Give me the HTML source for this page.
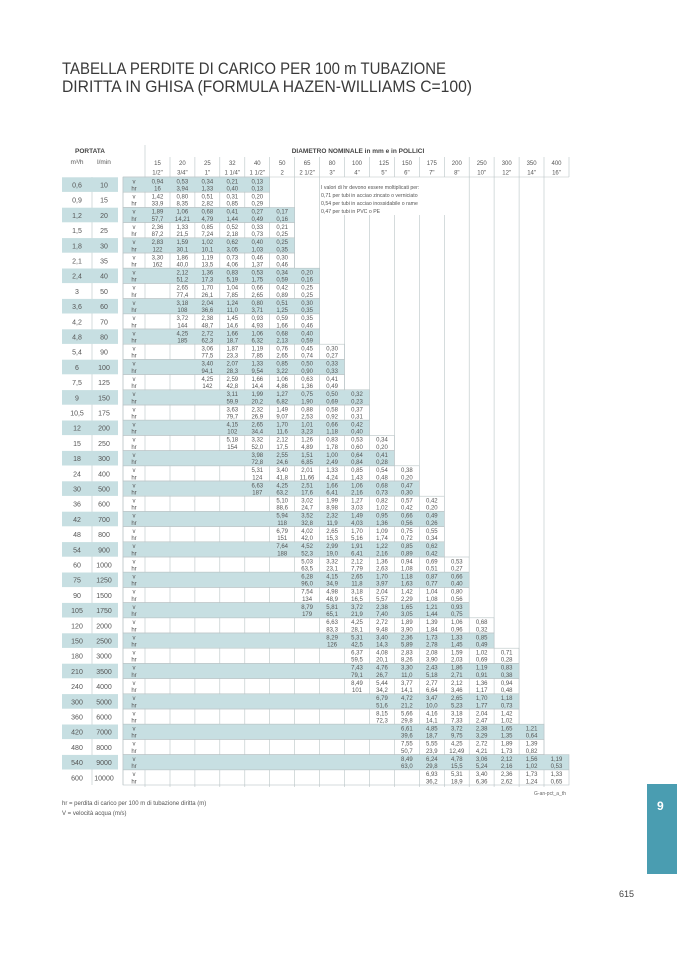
<!DOCTYPE html>
<html><head><meta charset="utf-8"><style>
html,body{margin:0;padding:0;background:#fff;}
svg{display:block;}
.d text{font-family:"Liberation Sans",sans-serif;font-size:6px;fill:#555;text-anchor:middle;}
.l{font-family:"Liberation Sans",sans-serif;font-size:7px;fill:#555;text-anchor:middle;}
.s{fill:#c7dfe2;}
.b{fill:none;stroke:#b9c4c6;stroke-width:0.6;}
</style></head><body>
<svg width="677" height="958" viewBox="0 0 677 958" xmlns="http://www.w3.org/2000/svg">
<text x="62" y="74" font-family="Liberation Sans, sans-serif" font-size="17" fill="#3a3a3a" textLength="384" lengthAdjust="spacingAndGlyphs">TABELLA PERDITE DI CARICO PER 100 m TUBAZIONE</text>
<text x="62" y="92" font-family="Liberation Sans, sans-serif" font-size="17" fill="#3a3a3a" textLength="410" lengthAdjust="spacingAndGlyphs">DIRITTA IN GHISA (FORMULA HAZEN-WILLIAMS C=100)</text>

<!-- header -->
<text x="90" y="153" font-family="Liberation Sans, sans-serif" font-size="6.5" font-weight="bold" fill="#444" text-anchor="middle">PORTATA</text>
<text x="77" y="164" class="l" style="font-size:6.5px">m³/h</text>
<text x="104" y="164" class="l" style="font-size:6.5px">l/min</text>
<text x="358" y="153" font-family="Liberation Sans, sans-serif" font-size="6.5" font-weight="bold" fill="#444" text-anchor="middle">DIAMETRO NOMINALE in mm e in POLLICI</text>
<g class="d">
<text x="157.5" y="165">15</text><text x="182.4" y="165">20</text><text x="207.4" y="165">25</text><text x="232.3" y="165">32</text><text x="257.3" y="165">40</text><text x="282.2" y="165">50</text><text x="307.1" y="165">65</text><text x="332.1" y="165">80</text><text x="357" y="165">100</text><text x="384" y="165">125</text><text x="406.9" y="165">150</text><text x="431.8" y="165">175</text><text x="456.8" y="165">200</text><text x="481.7" y="165">250</text><text x="506.7" y="165">300</text><text x="531.6" y="165">350</text><text x="556.5" y="165">400</text>
<text x="157.5" y="174.5">1/2"</text><text x="182.4" y="174.5">3/4"</text><text x="207.4" y="174.5">1"</text><text x="232.3" y="174.5">1 1/4"</text><text x="257.3" y="174.5">1 1/2"</text><text x="282.2" y="174.5">2</text><text x="307.1" y="174.5">2 1/2"</text><text x="332.1" y="174.5">3"</text><text x="357" y="174.5">4"</text><text x="384" y="174.5">5"</text><text x="406.9" y="174.5">6"</text><text x="431.8" y="174.5">7"</text><text x="456.8" y="174.5">8"</text><text x="481.7" y="174.5">10"</text><text x="506.7" y="174.5">12"</text><text x="531.6" y="174.5">14"</text><text x="556.5" y="174.5">16"</text>
</g>
<g stroke="#b9c4c6" stroke-width="0.6">
<line x1="145" y1="145" x2="145" y2="787"/><line x1="123" y1="177" x2="123" y2="785"/>
<line x1="170" y1="157" x2="170" y2="787"/><line x1="194.9" y1="157" x2="194.9" y2="787"/><line x1="219.8" y1="157" x2="219.8" y2="787"/><line x1="244.8" y1="157" x2="244.8" y2="787"/><line x1="269.7" y1="157" x2="269.7" y2="787"/><line x1="294.6" y1="157" x2="294.6" y2="787"/><line x1="319.6" y1="157" x2="319.6" y2="787"/>
<line x1="344.5" y1="157" x2="344.5" y2="177"/><line x1="369.5" y1="157" x2="369.5" y2="177"/><line x1="394.4" y1="157" x2="394.4" y2="177"/><line x1="419.3" y1="157" x2="419.3" y2="177"/><line x1="444.3" y1="157" x2="444.3" y2="177"/>
<line x1="344.5" y1="215" x2="344.5" y2="787"/><line x1="369.5" y1="215" x2="369.5" y2="787"/><line x1="394.4" y1="215" x2="394.4" y2="787"/><line x1="419.3" y1="215" x2="419.3" y2="787"/><line x1="444.3" y1="215" x2="444.3" y2="787"/>
<line x1="469.2" y1="157" x2="469.2" y2="787"/><line x1="494.1" y1="157" x2="494.1" y2="787"/><line x1="519.1" y1="157" x2="519.1" y2="787"/><line x1="544" y1="157" x2="544" y2="787"/><line x1="569" y1="157" x2="569" y2="177"/>
<line x1="123" y1="177" x2="569" y2="177"/><line x1="92" y1="177" x2="92" y2="785"/>
</g>
<g font-family="Liberation Sans, sans-serif" font-size="5.2" fill="#555">
<text x="321" y="189">I valori di hr devono essere moltiplicati per:</text>
<text x="321" y="197">0,71  per tubi in acciao  zincato o verniciato</text>
<text x="321" y="205">0,54  per tubi in acciao inossidabile o rame</text>
<text x="321" y="213">0,47  per tubi in PVC o PE</text>
</g>

<!-- shading -->
<g class="s">
<rect x="62" y="177.3" width="56" height="14.6"/><rect x="123" y="177.3" width="146.7" height="14.6"/>
<rect x="62" y="207.7" width="56" height="14.6"/><rect x="123" y="207.7" width="171.6" height="14.6"/>
<rect x="62" y="238.1" width="56" height="14.6"/><rect x="123" y="238.1" width="171.6" height="14.6"/>
<rect x="62" y="268.5" width="56" height="14.6"/><rect x="123" y="268.5" width="196.6" height="14.6"/>
<rect x="62" y="298.9" width="56" height="14.6"/><rect x="123" y="298.9" width="196.6" height="14.6"/>
<rect x="62" y="329.3" width="56" height="14.6"/><rect x="123" y="329.3" width="196.6" height="14.6"/>
<rect x="62" y="359.7" width="56" height="14.6"/><rect x="123" y="359.7" width="221.5" height="14.6"/>
<rect x="62" y="390.1" width="56" height="14.6"/><rect x="123" y="390.1" width="246.5" height="14.6"/>
<rect x="62" y="420.5" width="56" height="14.6"/><rect x="123" y="420.5" width="246.5" height="14.6"/>
<rect x="62" y="450.9" width="56" height="14.6"/><rect x="123" y="450.9" width="271.4" height="14.6"/>
<rect x="62" y="481.3" width="56" height="14.6"/><rect x="123" y="481.3" width="296.3" height="14.6"/>
<rect x="62" y="511.7" width="56" height="14.6"/><rect x="123" y="511.7" width="321.3" height="14.6"/>
<rect x="62" y="542.1" width="56" height="14.6"/><rect x="123" y="542.1" width="321.3" height="14.6"/>
<rect x="62" y="572.5" width="56" height="14.6"/><rect x="123" y="572.5" width="346.2" height="14.6"/>
<rect x="62" y="602.9" width="56" height="14.6"/><rect x="123" y="602.9" width="346.2" height="14.6"/>
<rect x="62" y="633.3" width="56" height="14.6"/><rect x="123" y="633.3" width="371.1" height="14.6"/>
<rect x="62" y="663.7" width="56" height="14.6"/><rect x="123" y="663.7" width="396.1" height="14.6"/>
<rect x="62" y="694.1" width="56" height="14.6"/><rect x="123" y="694.1" width="396.1" height="14.6"/>
<rect x="62" y="724.5" width="56" height="14.6"/><rect x="123" y="724.5" width="421" height="14.6"/>
<rect x="62" y="754.9" width="56" height="14.6"/><rect x="123" y="754.9" width="446" height="14.6"/>
</g>
<!-- row borders -->
<g class="b">
<rect x="123" y="177" width="146.7" height="15.2"/><rect x="123" y="192.2" width="146.7" height="15.2"/>
<rect x="123" y="207.4" width="171.6" height="15.2"/><rect x="123" y="222.6" width="171.6" height="15.2"/><rect x="123" y="237.8" width="171.6" height="15.2"/><rect x="123" y="253" width="171.6" height="15.2"/>
<rect x="123" y="268.2" width="196.6" height="15.2"/><rect x="123" y="283.4" width="196.6" height="15.2"/><rect x="123" y="298.6" width="196.6" height="15.2"/><rect x="123" y="313.8" width="196.6" height="15.2"/><rect x="123" y="329" width="196.6" height="15.2"/>
<rect x="123" y="344.2" width="221.5" height="15.2"/><rect x="123" y="359.4" width="221.5" height="15.2"/><rect x="123" y="374.6" width="221.5" height="15.2"/>
<rect x="123" y="389.8" width="246.5" height="15.2"/><rect x="123" y="405" width="246.5" height="15.2"/><rect x="123" y="420.2" width="246.5" height="15.2"/>
<rect x="123" y="435.4" width="271.4" height="15.2"/><rect x="123" y="450.6" width="271.4" height="15.2"/>
<rect x="123" y="465.8" width="296.3" height="15.2"/><rect x="123" y="481" width="296.3" height="15.2"/>
<rect x="123" y="496.2" width="321.3" height="15.2"/><rect x="123" y="511.4" width="321.3" height="15.2"/><rect x="123" y="526.6" width="321.3" height="15.2"/><rect x="123" y="541.8" width="321.3" height="15.2"/>
<rect x="123" y="557" width="346.2" height="15.2"/><rect x="123" y="572.2" width="346.2" height="15.2"/><rect x="123" y="587.4" width="346.2" height="15.2"/><rect x="123" y="602.6" width="346.2" height="15.2"/>
<rect x="123" y="617.8" width="371.1" height="15.2"/><rect x="123" y="633" width="371.1" height="15.2"/>
<rect x="123" y="648.2" width="396.1" height="15.2"/><rect x="123" y="663.4" width="396.1" height="15.2"/><rect x="123" y="678.6" width="396.1" height="15.2"/><rect x="123" y="693.8" width="396.1" height="15.2"/><rect x="123" y="709" width="396.1" height="15.2"/>
<rect x="123" y="724.2" width="421" height="15.2"/><rect x="123" y="739.4" width="421" height="15.2"/>
<rect x="123" y="754.6" width="446" height="15.2"/><rect x="123" y="769.8" width="446" height="15.2"/>
</g>

<!-- left labels -->
<g class="l">
<text x="77" y="187.5">0,6</text><text x="104" y="187.5">10</text>
<text x="77" y="202.7">0,9</text><text x="104" y="202.7">15</text>
<text x="77" y="217.9">1,2</text><text x="104" y="217.9">20</text>
<text x="77" y="233.1">1,5</text><text x="104" y="233.1">25</text>
<text x="77" y="248.3">1,8</text><text x="104" y="248.3">30</text>
<text x="77" y="263.5">2,1</text><text x="104" y="263.5">35</text>
<text x="77" y="278.7">2,4</text><text x="104" y="278.7">40</text>
<text x="77" y="293.9">3</text><text x="104" y="293.9">50</text>
<text x="77" y="309.1">3,6</text><text x="104" y="309.1">60</text>
<text x="77" y="324.3">4,2</text><text x="104" y="324.3">70</text>
<text x="77" y="339.5">4,8</text><text x="104" y="339.5">80</text>
<text x="77" y="354.7">5,4</text><text x="104" y="354.7">90</text>
<text x="77" y="369.9">6</text><text x="104" y="369.9">100</text>
<text x="77" y="385.1">7,5</text><text x="104" y="385.1">125</text>
<text x="77" y="400.3">9</text><text x="104" y="400.3">150</text>
<text x="77" y="415.5">10,5</text><text x="104" y="415.5">175</text>
<text x="77" y="430.7">12</text><text x="104" y="430.7">200</text>
<text x="77" y="445.9">15</text><text x="104" y="445.9">250</text>
<text x="77" y="461.1">18</text><text x="104" y="461.1">300</text>
<text x="77" y="476.3">24</text><text x="104" y="476.3">400</text>
<text x="77" y="491.5">30</text><text x="104" y="491.5">500</text>
<text x="77" y="506.7">36</text><text x="104" y="506.7">600</text>
<text x="77" y="521.9">42</text><text x="104" y="521.9">700</text>
<text x="77" y="537.1">48</text><text x="104" y="537.1">800</text>
<text x="77" y="552.3">54</text><text x="104" y="552.3">900</text>
<text x="77" y="567.5">60</text><text x="104" y="567.5">1000</text>
<text x="77" y="582.7">75</text><text x="104" y="582.7">1250</text>
<text x="77" y="597.9">90</text><text x="104" y="597.9">1500</text>
<text x="77" y="613.1">105</text><text x="104" y="613.1">1750</text>
<text x="77" y="628.3">120</text><text x="104" y="628.3">2000</text>
<text x="77" y="643.5">150</text><text x="104" y="643.5">2500</text>
<text x="77" y="658.7">180</text><text x="104" y="658.7">3000</text>
<text x="77" y="673.9">210</text><text x="104" y="673.9">3500</text>
<text x="77" y="689.1">240</text><text x="104" y="689.1">4000</text>
<text x="77" y="704.3">300</text><text x="104" y="704.3">5000</text>
<text x="77" y="719.5">360</text><text x="104" y="719.5">6000</text>
<text x="77" y="734.7">420</text><text x="104" y="734.7">7000</text>
<text x="77" y="749.9">480</text><text x="104" y="749.9">8000</text>
<text x="77" y="765.1">540</text><text x="104" y="765.1">9000</text>
<text x="77" y="780.3">600</text><text x="104" y="780.3">10000</text>
</g>

<!-- data rows -->
<g class="d">
<g transform="translate(0,177)"><text x="134" y="6.3">v</text><text x="134" y="13.5">hr</text><text x="157.5" y="6.3">0,94</text><text x="182.4" y="6.3">0,53</text><text x="207.4" y="6.3">0,34</text><text x="232.3" y="6.3">0,21</text><text x="257.3" y="6.3">0,13</text><text x="157.5" y="13.5">16</text><text x="182.4" y="13.5">3,94</text><text x="207.4" y="13.5">1,33</text><text x="232.3" y="13.5">0,40</text><text x="257.3" y="13.5">0,13</text></g>
<g transform="translate(0,192.2)"><text x="134" y="6.3">v</text><text x="134" y="13.5">hr</text><text x="157.5" y="6.3">1,42</text><text x="182.4" y="6.3">0,80</text><text x="207.4" y="6.3">0,51</text><text x="232.3" y="6.3">0,31</text><text x="257.3" y="6.3">0,20</text><text x="157.5" y="13.5">33,9</text><text x="182.4" y="13.5">8,35</text><text x="207.4" y="13.5">2,82</text><text x="232.3" y="13.5">0,85</text><text x="257.3" y="13.5">0,29</text></g>
<g transform="translate(0,207.4)"><text x="134" y="6.3">v</text><text x="134" y="13.5">hr</text><text x="157.5" y="6.3">1,89</text><text x="182.4" y="6.3">1,06</text><text x="207.4" y="6.3">0,68</text><text x="232.3" y="6.3">0,41</text><text x="257.3" y="6.3">0,27</text><text x="282.2" y="6.3">0,17</text><text x="157.5" y="13.5">57,7</text><text x="182.4" y="13.5">14,21</text><text x="207.4" y="13.5">4,79</text><text x="232.3" y="13.5">1,44</text><text x="257.3" y="13.5">0,49</text><text x="282.2" y="13.5">0,16</text></g>
<g transform="translate(0,222.6)"><text x="134" y="6.3">v</text><text x="134" y="13.5">hr</text><text x="157.5" y="6.3">2,36</text><text x="182.4" y="6.3">1,33</text><text x="207.4" y="6.3">0,85</text><text x="232.3" y="6.3">0,52</text><text x="257.3" y="6.3">0,33</text><text x="282.2" y="6.3">0,21</text><text x="157.5" y="13.5">87,2</text><text x="182.4" y="13.5">21,5</text><text x="207.4" y="13.5">7,24</text><text x="232.3" y="13.5">2,18</text><text x="257.3" y="13.5">0,73</text><text x="282.2" y="13.5">0,25</text></g>
<g transform="translate(0,237.8)"><text x="134" y="6.3">v</text><text x="134" y="13.5">hr</text><text x="157.5" y="6.3">2,83</text><text x="182.4" y="6.3">1,59</text><text x="207.4" y="6.3">1,02</text><text x="232.3" y="6.3">0,62</text><text x="257.3" y="6.3">0,40</text><text x="282.2" y="6.3">0,25</text><text x="157.5" y="13.5">122</text><text x="182.4" y="13.5">30,1</text><text x="207.4" y="13.5">10,1</text><text x="232.3" y="13.5">3,05</text><text x="257.3" y="13.5">1,03</text><text x="282.2" y="13.5">0,35</text></g>
<g transform="translate(0,253)"><text x="134" y="6.3">v</text><text x="134" y="13.5">hr</text><text x="157.5" y="6.3">3,30</text><text x="182.4" y="6.3">1,86</text><text x="207.4" y="6.3">1,19</text><text x="232.3" y="6.3">0,73</text><text x="257.3" y="6.3">0,46</text><text x="282.2" y="6.3">0,30</text><text x="157.5" y="13.5">162</text><text x="182.4" y="13.5">40,0</text><text x="207.4" y="13.5">13,5</text><text x="232.3" y="13.5">4,06</text><text x="257.3" y="13.5">1,37</text><text x="282.2" y="13.5">0,46</text></g>
<g transform="translate(0,268.2)"><text x="134" y="6.3">v</text><text x="134" y="13.5">hr</text><text x="182.4" y="6.3">2,12</text><text x="207.4" y="6.3">1,36</text><text x="232.3" y="6.3">0,83</text><text x="257.3" y="6.3">0,53</text><text x="282.2" y="6.3">0,34</text><text x="307.1" y="6.3">0,20</text><text x="182.4" y="13.5">51,2</text><text x="207.4" y="13.5">17,3</text><text x="232.3" y="13.5">5,19</text><text x="257.3" y="13.5">1,75</text><text x="282.2" y="13.5">0,59</text><text x="307.1" y="13.5">0,16</text></g>
<g transform="translate(0,283.4)"><text x="134" y="6.3">v</text><text x="134" y="13.5">hr</text><text x="182.4" y="6.3">2,65</text><text x="207.4" y="6.3">1,70</text><text x="232.3" y="6.3">1,04</text><text x="257.3" y="6.3">0,66</text><text x="282.2" y="6.3">0,42</text><text x="307.1" y="6.3">0,25</text><text x="182.4" y="13.5">77,4</text><text x="207.4" y="13.5">26,1</text><text x="232.3" y="13.5">7,85</text><text x="257.3" y="13.5">2,65</text><text x="282.2" y="13.5">0,89</text><text x="307.1" y="13.5">0,25</text></g>
<g transform="translate(0,298.6)"><text x="134" y="6.3">v</text><text x="134" y="13.5">hr</text><text x="182.4" y="6.3">3,18</text><text x="207.4" y="6.3">2,04</text><text x="232.3" y="6.3">1,24</text><text x="257.3" y="6.3">0,80</text><text x="282.2" y="6.3">0,51</text><text x="307.1" y="6.3">0,30</text><text x="182.4" y="13.5">108</text><text x="207.4" y="13.5">36,6</text><text x="232.3" y="13.5">11,0</text><text x="257.3" y="13.5">3,71</text><text x="282.2" y="13.5">1,25</text><text x="307.1" y="13.5">0,35</text></g>
<g transform="translate(0,313.8)"><text x="134" y="6.3">v</text><text x="134" y="13.5">hr</text><text x="182.4" y="6.3">3,72</text><text x="207.4" y="6.3">2,38</text><text x="232.3" y="6.3">1,45</text><text x="257.3" y="6.3">0,93</text><text x="282.2" y="6.3">0,59</text><text x="307.1" y="6.3">0,35</text><text x="182.4" y="13.5">144</text><text x="207.4" y="13.5">48,7</text><text x="232.3" y="13.5">14,6</text><text x="257.3" y="13.5">4,93</text><text x="282.2" y="13.5">1,66</text><text x="307.1" y="13.5">0,46</text></g>
<g transform="translate(0,329)"><text x="134" y="6.3">v</text><text x="134" y="13.5">hr</text><text x="182.4" y="6.3">4,25</text><text x="207.4" y="6.3">2,72</text><text x="232.3" y="6.3">1,66</text><text x="257.3" y="6.3">1,06</text><text x="282.2" y="6.3">0,68</text><text x="307.1" y="6.3">0,40</text><text x="182.4" y="13.5">185</text><text x="207.4" y="13.5">62,3</text><text x="232.3" y="13.5">18,7</text><text x="257.3" y="13.5">6,32</text><text x="282.2" y="13.5">2,13</text><text x="307.1" y="13.5">0,59</text></g>
<g transform="translate(0,344.2)"><text x="134" y="6.3">v</text><text x="134" y="13.5">hr</text><text x="207.4" y="6.3">3,06</text><text x="232.3" y="6.3">1,87</text><text x="257.3" y="6.3">1,19</text><text x="282.2" y="6.3">0,76</text><text x="307.1" y="6.3">0,45</text><text x="332.1" y="6.3">0,30</text><text x="207.4" y="13.5">77,5</text><text x="232.3" y="13.5">23,3</text><text x="257.3" y="13.5">7,85</text><text x="282.2" y="13.5">2,65</text><text x="307.1" y="13.5">0,74</text><text x="332.1" y="13.5">0,27</text></g>
<g transform="translate(0,359.4)"><text x="134" y="6.3">v</text><text x="134" y="13.5">hr</text><text x="207.4" y="6.3">3,40</text><text x="232.3" y="6.3">2,07</text><text x="257.3" y="6.3">1,33</text><text x="282.2" y="6.3">0,85</text><text x="307.1" y="6.3">0,50</text><text x="332.1" y="6.3">0,33</text><text x="207.4" y="13.5">94,1</text><text x="232.3" y="13.5">28,3</text><text x="257.3" y="13.5">9,54</text><text x="282.2" y="13.5">3,22</text><text x="307.1" y="13.5">0,90</text><text x="332.1" y="13.5">0,33</text></g>
<g transform="translate(0,374.6)"><text x="134" y="6.3">v</text><text x="134" y="13.5">hr</text><text x="207.4" y="6.3">4,25</text><text x="232.3" y="6.3">2,59</text><text x="257.3" y="6.3">1,66</text><text x="282.2" y="6.3">1,06</text><text x="307.1" y="6.3">0,63</text><text x="332.1" y="6.3">0,41</text><text x="207.4" y="13.5">142</text><text x="232.3" y="13.5">42,8</text><text x="257.3" y="13.5">14,4</text><text x="282.2" y="13.5">4,86</text><text x="307.1" y="13.5">1,36</text><text x="332.1" y="13.5">0,49</text></g>
<g transform="translate(0,389.8)"><text x="134" y="6.3">v</text><text x="134" y="13.5">hr</text><text x="232.3" y="6.3">3,11</text><text x="257.3" y="6.3">1,99</text><text x="282.2" y="6.3">1,27</text><text x="307.1" y="6.3">0,75</text><text x="332.1" y="6.3">0,50</text><text x="357" y="6.3">0,32</text><text x="232.3" y="13.5">59,9</text><text x="257.3" y="13.5">20,2</text><text x="282.2" y="13.5">6,82</text><text x="307.1" y="13.5">1,90</text><text x="332.1" y="13.5">0,69</text><text x="357" y="13.5">0,23</text></g>
<g transform="translate(0,405)"><text x="134" y="6.3">v</text><text x="134" y="13.5">hr</text><text x="232.3" y="6.3">3,63</text><text x="257.3" y="6.3">2,32</text><text x="282.2" y="6.3">1,49</text><text x="307.1" y="6.3">0,88</text><text x="332.1" y="6.3">0,58</text><text x="357" y="6.3">0,37</text><text x="232.3" y="13.5">79,7</text><text x="257.3" y="13.5">26,9</text><text x="282.2" y="13.5">9,07</text><text x="307.1" y="13.5">2,53</text><text x="332.1" y="13.5">0,92</text><text x="357" y="13.5">0,31</text></g>
<g transform="translate(0,420.2)"><text x="134" y="6.3">v</text><text x="134" y="13.5">hr</text><text x="232.3" y="6.3">4,15</text><text x="257.3" y="6.3">2,65</text><text x="282.2" y="6.3">1,70</text><text x="307.1" y="6.3">1,01</text><text x="332.1" y="6.3">0,66</text><text x="357" y="6.3">0,42</text><text x="232.3" y="13.5">102</text><text x="257.3" y="13.5">34,4</text><text x="282.2" y="13.5">11,6</text><text x="307.1" y="13.5">3,23</text><text x="332.1" y="13.5">1,18</text><text x="357" y="13.5">0,40</text></g>
<g transform="translate(0,435.4)"><text x="134" y="6.3">v</text><text x="134" y="13.5">hr</text><text x="232.3" y="6.3">5,18</text><text x="257.3" y="6.3">3,32</text><text x="282.2" y="6.3">2,12</text><text x="307.1" y="6.3">1,26</text><text x="332.1" y="6.3">0,83</text><text x="357" y="6.3">0,53</text><text x="382" y="6.3">0,34</text><text x="232.3" y="13.5">154</text><text x="257.3" y="13.5">52,0</text><text x="282.2" y="13.5">17,5</text><text x="307.1" y="13.5">4,89</text><text x="332.1" y="13.5">1,78</text><text x="357" y="13.5">0,60</text><text x="382" y="13.5">0,20</text></g>
<g transform="translate(0,450.6)"><text x="134" y="6.3">v</text><text x="134" y="13.5">hr</text><text x="257.3" y="6.3">3,98</text><text x="282.2" y="6.3">2,55</text><text x="307.1" y="6.3">1,51</text><text x="332.1" y="6.3">1,00</text><text x="357" y="6.3">0,64</text><text x="382" y="6.3">0,41</text><text x="257.3" y="13.5">72,8</text><text x="282.2" y="13.5">24,6</text><text x="307.1" y="13.5">6,85</text><text x="332.1" y="13.5">2,49</text><text x="357" y="13.5">0,84</text><text x="382" y="13.5">0,28</text></g>
<g transform="translate(0,465.8)"><text x="134" y="6.3">v</text><text x="134" y="13.5">hr</text><text x="257.3" y="6.3">5,31</text><text x="282.2" y="6.3">3,40</text><text x="307.1" y="6.3">2,01</text><text x="332.1" y="6.3">1,33</text><text x="357" y="6.3">0,85</text><text x="382" y="6.3">0,54</text><text x="406.9" y="6.3">0,38</text><text x="257.3" y="13.5">124</text><text x="282.2" y="13.5">41,8</text><text x="307.1" y="13.5">11,66</text><text x="332.1" y="13.5">4,24</text><text x="357" y="13.5">1,43</text><text x="382" y="13.5">0,48</text><text x="406.9" y="13.5">0,20</text></g>
<g transform="translate(0,481)"><text x="134" y="6.3">v</text><text x="134" y="13.5">hr</text><text x="257.3" y="6.3">6,63</text><text x="282.2" y="6.3">4,25</text><text x="307.1" y="6.3">2,51</text><text x="332.1" y="6.3">1,66</text><text x="357" y="6.3">1,06</text><text x="382" y="6.3">0,68</text><text x="406.9" y="6.3">0,47</text><text x="257.3" y="13.5">187</text><text x="282.2" y="13.5">63,2</text><text x="307.1" y="13.5">17,6</text><text x="332.1" y="13.5">6,41</text><text x="357" y="13.5">2,16</text><text x="382" y="13.5">0,73</text><text x="406.9" y="13.5">0,30</text></g>
<g transform="translate(0,496.2)"><text x="134" y="6.3">v</text><text x="134" y="13.5">hr</text><text x="282.2" y="6.3">5,10</text><text x="307.1" y="6.3">3,02</text><text x="332.1" y="6.3">1,99</text><text x="357" y="6.3">1,27</text><text x="382" y="6.3">0,82</text><text x="406.9" y="6.3">0,57</text><text x="431.8" y="6.3">0,42</text><text x="282.2" y="13.5">88,6</text><text x="307.1" y="13.5">24,7</text><text x="332.1" y="13.5">8,98</text><text x="357" y="13.5">3,03</text><text x="382" y="13.5">1,02</text><text x="406.9" y="13.5">0,42</text><text x="431.8" y="13.5">0,20</text></g>
<g transform="translate(0,511.4)"><text x="134" y="6.3">v</text><text x="134" y="13.5">hr</text><text x="282.2" y="6.3">5,94</text><text x="307.1" y="6.3">3,52</text><text x="332.1" y="6.3">2,32</text><text x="357" y="6.3">1,49</text><text x="382" y="6.3">0,95</text><text x="406.9" y="6.3">0,66</text><text x="431.8" y="6.3">0,49</text><text x="282.2" y="13.5">118</text><text x="307.1" y="13.5">32,8</text><text x="332.1" y="13.5">11,9</text><text x="357" y="13.5">4,03</text><text x="382" y="13.5">1,36</text><text x="406.9" y="13.5">0,56</text><text x="431.8" y="13.5">0,26</text></g>
<g transform="translate(0,526.6)"><text x="134" y="6.3">v</text><text x="134" y="13.5">hr</text><text x="282.2" y="6.3">6,79</text><text x="307.1" y="6.3">4,02</text><text x="332.1" y="6.3">2,65</text><text x="357" y="6.3">1,70</text><text x="382" y="6.3">1,09</text><text x="406.9" y="6.3">0,75</text><text x="431.8" y="6.3">0,55</text><text x="282.2" y="13.5">151</text><text x="307.1" y="13.5">42,0</text><text x="332.1" y="13.5">15,3</text><text x="357" y="13.5">5,16</text><text x="382" y="13.5">1,74</text><text x="406.9" y="13.5">0,72</text><text x="431.8" y="13.5">0,34</text></g>
<g transform="translate(0,541.8)"><text x="134" y="6.3">v</text><text x="134" y="13.5">hr</text><text x="282.2" y="6.3">7,64</text><text x="307.1" y="6.3">4,52</text><text x="332.1" y="6.3">2,99</text><text x="357" y="6.3">1,91</text><text x="382" y="6.3">1,22</text><text x="406.9" y="6.3">0,85</text><text x="431.8" y="6.3">0,62</text><text x="282.2" y="13.5">188</text><text x="307.1" y="13.5">52,3</text><text x="332.1" y="13.5">19,0</text><text x="357" y="13.5">6,41</text><text x="382" y="13.5">2,16</text><text x="406.9" y="13.5">0,89</text><text x="431.8" y="13.5">0,42</text></g>
<g transform="translate(0,557)"><text x="134" y="6.3">v</text><text x="134" y="13.5">hr</text><text x="307.1" y="6.3">5,03</text><text x="332.1" y="6.3">3,32</text><text x="357" y="6.3">2,12</text><text x="382" y="6.3">1,36</text><text x="406.9" y="6.3">0,94</text><text x="431.8" y="6.3">0,69</text><text x="456.8" y="6.3">0,53</text><text x="307.1" y="13.5">63,5</text><text x="332.1" y="13.5">23,1</text><text x="357" y="13.5">7,79</text><text x="382" y="13.5">2,63</text><text x="406.9" y="13.5">1,08</text><text x="431.8" y="13.5">0,51</text><text x="456.8" y="13.5">0,27</text></g>
<g transform="translate(0,572.2)"><text x="134" y="6.3">v</text><text x="134" y="13.5">hr</text><text x="307.1" y="6.3">6,28</text><text x="332.1" y="6.3">4,15</text><text x="357" y="6.3">2,65</text><text x="382" y="6.3">1,70</text><text x="406.9" y="6.3">1,18</text><text x="431.8" y="6.3">0,87</text><text x="456.8" y="6.3">0,66</text><text x="307.1" y="13.5">96,0</text><text x="332.1" y="13.5">34,9</text><text x="357" y="13.5">11,8</text><text x="382" y="13.5">3,97</text><text x="406.9" y="13.5">1,63</text><text x="431.8" y="13.5">0,77</text><text x="456.8" y="13.5">0,40</text></g>
<g transform="translate(0,587.4)"><text x="134" y="6.3">v</text><text x="134" y="13.5">hr</text><text x="307.1" y="6.3">7,54</text><text x="332.1" y="6.3">4,98</text><text x="357" y="6.3">3,18</text><text x="382" y="6.3">2,04</text><text x="406.9" y="6.3">1,42</text><text x="431.8" y="6.3">1,04</text><text x="456.8" y="6.3">0,80</text><text x="307.1" y="13.5">134</text><text x="332.1" y="13.5">48,9</text><text x="357" y="13.5">16,5</text><text x="382" y="13.5">5,57</text><text x="406.9" y="13.5">2,29</text><text x="431.8" y="13.5">1,08</text><text x="456.8" y="13.5">0,56</text></g>
<g transform="translate(0,602.6)"><text x="134" y="6.3">v</text><text x="134" y="13.5">hr</text><text x="307.1" y="6.3">8,79</text><text x="332.1" y="6.3">5,81</text><text x="357" y="6.3">3,72</text><text x="382" y="6.3">2,38</text><text x="406.9" y="6.3">1,65</text><text x="431.8" y="6.3">1,21</text><text x="456.8" y="6.3">0,93</text><text x="307.1" y="13.5">179</text><text x="332.1" y="13.5">65,1</text><text x="357" y="13.5">21,9</text><text x="382" y="13.5">7,40</text><text x="406.9" y="13.5">3,05</text><text x="431.8" y="13.5">1,44</text><text x="456.8" y="13.5">0,75</text></g>
<g transform="translate(0,617.8)"><text x="134" y="6.3">v</text><text x="134" y="13.5">hr</text><text x="332.1" y="6.3">6,63</text><text x="357" y="6.3">4,25</text><text x="382" y="6.3">2,72</text><text x="406.9" y="6.3">1,89</text><text x="431.8" y="6.3">1,39</text><text x="456.8" y="6.3">1,06</text><text x="481.7" y="6.3">0,68</text><text x="332.1" y="13.5">83,3</text><text x="357" y="13.5">28,1</text><text x="382" y="13.5">9,48</text><text x="406.9" y="13.5">3,90</text><text x="431.8" y="13.5">1,84</text><text x="456.8" y="13.5">0,96</text><text x="481.7" y="13.5">0,32</text></g>
<g transform="translate(0,633)"><text x="134" y="6.3">v</text><text x="134" y="13.5">hr</text><text x="332.1" y="6.3">8,29</text><text x="357" y="6.3">5,31</text><text x="382" y="6.3">3,40</text><text x="406.9" y="6.3">2,36</text><text x="431.8" y="6.3">1,73</text><text x="456.8" y="6.3">1,33</text><text x="481.7" y="6.3">0,85</text><text x="332.1" y="13.5">126</text><text x="357" y="13.5">42,5</text><text x="382" y="13.5">14,3</text><text x="406.9" y="13.5">5,89</text><text x="431.8" y="13.5">2,78</text><text x="456.8" y="13.5">1,45</text><text x="481.7" y="13.5">0,49</text></g>
<g transform="translate(0,648.2)"><text x="134" y="6.3">v</text><text x="134" y="13.5">hr</text><text x="357" y="6.3">6,37</text><text x="382" y="6.3">4,08</text><text x="406.9" y="6.3">2,83</text><text x="431.8" y="6.3">2,08</text><text x="456.8" y="6.3">1,59</text><text x="481.7" y="6.3">1,02</text><text x="506.7" y="6.3">0,71</text><text x="357" y="13.5">59,5</text><text x="382" y="13.5">20,1</text><text x="406.9" y="13.5">8,26</text><text x="431.8" y="13.5">3,90</text><text x="456.8" y="13.5">2,03</text><text x="481.7" y="13.5">0,69</text><text x="506.7" y="13.5">0,28</text></g>
<g transform="translate(0,663.4)"><text x="134" y="6.3">v</text><text x="134" y="13.5">hr</text><text x="357" y="6.3">7,43</text><text x="382" y="6.3">4,76</text><text x="406.9" y="6.3">3,30</text><text x="431.8" y="6.3">2,43</text><text x="456.8" y="6.3">1,86</text><text x="481.7" y="6.3">1,19</text><text x="506.7" y="6.3">0,83</text><text x="357" y="13.5">79,1</text><text x="382" y="13.5">26,7</text><text x="406.9" y="13.5">11,0</text><text x="431.8" y="13.5">5,18</text><text x="456.8" y="13.5">2,71</text><text x="481.7" y="13.5">0,91</text><text x="506.7" y="13.5">0,38</text></g>
<g transform="translate(0,678.6)"><text x="134" y="6.3">v</text><text x="134" y="13.5">hr</text><text x="357" y="6.3">8,49</text><text x="382" y="6.3">5,44</text><text x="406.9" y="6.3">3,77</text><text x="431.8" y="6.3">2,77</text><text x="456.8" y="6.3">2,12</text><text x="481.7" y="6.3">1,36</text><text x="506.7" y="6.3">0,94</text><text x="357" y="13.5">101</text><text x="382" y="13.5">34,2</text><text x="406.9" y="13.5">14,1</text><text x="431.8" y="13.5">6,64</text><text x="456.8" y="13.5">3,46</text><text x="481.7" y="13.5">1,17</text><text x="506.7" y="13.5">0,48</text></g>
<g transform="translate(0,693.8)"><text x="134" y="6.3">v</text><text x="134" y="13.5">hr</text><text x="382" y="6.3">6,79</text><text x="406.9" y="6.3">4,72</text><text x="431.8" y="6.3">3,47</text><text x="456.8" y="6.3">2,65</text><text x="481.7" y="6.3">1,70</text><text x="506.7" y="6.3">1,18</text><text x="382" y="13.5">51,6</text><text x="406.9" y="13.5">21,2</text><text x="431.8" y="13.5">10,0</text><text x="456.8" y="13.5">5,23</text><text x="481.7" y="13.5">1,77</text><text x="506.7" y="13.5">0,73</text></g>
<g transform="translate(0,709)"><text x="134" y="6.3">v</text><text x="134" y="13.5">hr</text><text x="382" y="6.3">8,15</text><text x="406.9" y="6.3">5,66</text><text x="431.8" y="6.3">4,16</text><text x="456.8" y="6.3">3,18</text><text x="481.7" y="6.3">2,04</text><text x="506.7" y="6.3">1,42</text><text x="382" y="13.5">72,3</text><text x="406.9" y="13.5">29,8</text><text x="431.8" y="13.5">14,1</text><text x="456.8" y="13.5">7,33</text><text x="481.7" y="13.5">2,47</text><text x="506.7" y="13.5">1,02</text></g>
<g transform="translate(0,724.2)"><text x="134" y="6.3">v</text><text x="134" y="13.5">hr</text><text x="406.9" y="6.3">6,61</text><text x="431.8" y="6.3">4,85</text><text x="456.8" y="6.3">3,72</text><text x="481.7" y="6.3">2,38</text><text x="506.7" y="6.3">1,65</text><text x="531.6" y="6.3">1,21</text><text x="406.9" y="13.5">39,6</text><text x="431.8" y="13.5">18,7</text><text x="456.8" y="13.5">9,75</text><text x="481.7" y="13.5">3,29</text><text x="506.7" y="13.5">1,35</text><text x="531.6" y="13.5">0,64</text></g>
<g transform="translate(0,739.4)"><text x="134" y="6.3">v</text><text x="134" y="13.5">hr</text><text x="406.9" y="6.3">7,55</text><text x="431.8" y="6.3">5,55</text><text x="456.8" y="6.3">4,25</text><text x="481.7" y="6.3">2,72</text><text x="506.7" y="6.3">1,89</text><text x="531.6" y="6.3">1,39</text><text x="406.9" y="13.5">50,7</text><text x="431.8" y="13.5">23,9</text><text x="456.8" y="13.5">12,49</text><text x="481.7" y="13.5">4,21</text><text x="506.7" y="13.5">1,73</text><text x="531.6" y="13.5">0,82</text></g>
<g transform="translate(0,754.6)"><text x="134" y="6.3">v</text><text x="134" y="13.5">hr</text><text x="406.9" y="6.3">8,49</text><text x="431.8" y="6.3">6,24</text><text x="456.8" y="6.3">4,78</text><text x="481.7" y="6.3">3,06</text><text x="506.7" y="6.3">2,12</text><text x="531.6" y="6.3">1,56</text><text x="556.5" y="6.3">1,19</text><text x="406.9" y="13.5">63,0</text><text x="431.8" y="13.5">29,8</text><text x="456.8" y="13.5">15,5</text><text x="481.7" y="13.5">5,24</text><text x="506.7" y="13.5">2,16</text><text x="531.6" y="13.5">1,02</text><text x="556.5" y="13.5">0,53</text></g>
<g transform="translate(0,769.8)"><text x="134" y="6.3">v</text><text x="134" y="13.5">hr</text><text x="431.8" y="6.3">6,93</text><text x="456.8" y="6.3">5,31</text><text x="481.7" y="6.3">3,40</text><text x="506.7" y="6.3">2,36</text><text x="531.6" y="6.3">1,73</text><text x="556.5" y="6.3">1,33</text><text x="431.8" y="13.5">36,2</text><text x="456.8" y="13.5">18,9</text><text x="481.7" y="13.5">6,36</text><text x="506.7" y="13.5">2,62</text><text x="531.6" y="13.5">1,24</text><text x="556.5" y="13.5">0,65</text></g>
</g>

<text x="566" y="795" font-family="Liberation Sans, sans-serif" font-size="5" fill="#666" text-anchor="end">G-an-pct_a_th</text>
<text x="62" y="805" font-family="Liberation Sans, sans-serif" font-size="6" fill="#555">hr = perdita di carico per 100 m di tubazione diritta (m)</text>
<text x="62" y="815" font-family="Liberation Sans, sans-serif" font-size="6" fill="#555">V = velocità acqua (m/s)</text>

<rect x="647" y="784" width="30" height="90" fill="#4a9db1"/>
<text x="657" y="810" font-family="Liberation Sans, sans-serif" font-size="12" font-weight="bold" fill="#fff">9</text>
<text x="619" y="897" font-family="Liberation Sans, sans-serif" font-size="9" fill="#444">615</text>
</svg>
</body></html>
